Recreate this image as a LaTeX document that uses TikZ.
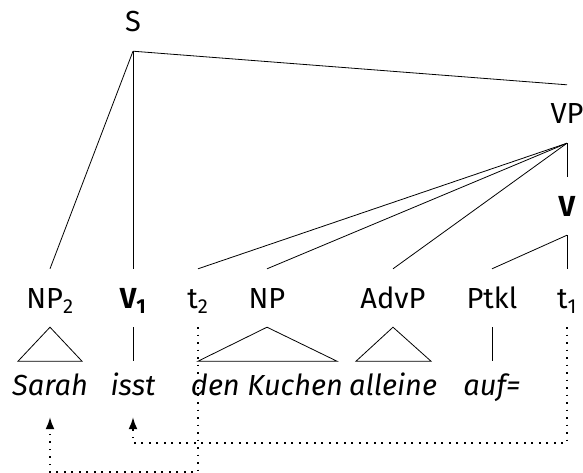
\documentclass[tikz,border=0pt]{standalone}
\usepackage{fontspec}
\setmainfont{Fira Sans}
\usetikzlibrary{arrows.meta}
\begin{document}
\begin{tikzpicture}[x=1pt,y=-1pt,
  lab/.style={inner sep=0pt,text height=20pt,text depth=0pt,minimum height=58pt,font=\fontsize{29}{34}\selectfont},
  word/.style={inner sep=0pt,text height=20pt,text depth=0pt,minimum height=64pt,font=\fontsize{29}{34}\selectfont\itshape},
  edge/.style={line width=0.8pt},
  trace/.style={line width=1.7pt,dash pattern=on 1.7pt off 5.8pt,-{Latex[length=12pt,width=9pt]}}]
\useasboundingbox (0,0) rectangle (583,473);
% labels
\node[lab] (S) at (133,22) {S};
\node[lab] (VP) at (567,114) {VP};
\node[lab] (V) at (567,206) {\textbf{V}};
\node[lab] (NPa) at (50,298) {NP\textsubscript{2}};
\node[lab] (Va) at (133,298) {\textbf{V\textsubscript{1}}};
\node[lab] (ta) at (198,298) {t\textsubscript{2}};
\node[lab] (NP) at (267,298) {NP};
\node[lab] (AdvP) at (393,298) {AdvP};
\node[lab] (Ptkl) at (492,298) {Ptkl};
\node[lab] (tb) at (567,298) {t\textsubscript{1}};
% words
\node[word] (w1) at (50,385) {Sarah};
\node[word] (w2) at (133,385) {isst};
\node[word] (w3) at (267,385) {den Kuchen};
\node[word] (w4) at (393,385) {alleine};
\node[word] (w5) at (492,385) {auf=};
% edges
\draw[edge] (S.south) -- (NPa.north);
\draw[edge] (S.south) -- (Va.north);
\draw[edge] (S.south) -- (VP.north);
\draw[edge] (VP.south) -- (ta.north);
\draw[edge] (VP.south) -- (NP.north);
\draw[edge] (VP.south) -- (AdvP.north);
\draw[edge] (VP.south) -- (V.north);
\draw[edge] (V.south) -- (Ptkl.north);
\draw[edge] (V.south) -- (tb.north);
% triangles and lines to words
\draw[edge] (NPa.south) -- ++(-32,34) -- ++(64,0) -- cycle;
\draw[edge] (Va.south) -- ++(0,34);
\draw[edge] (NP.south) -- ++(-69,34) -- ++(139,0) -- cycle;
\draw[edge] (AdvP.south) -- ++(-37,34) -- ++(75,0) -- cycle;
\draw[edge] (Ptkl.south) -- ++(0,34);
% traces
\draw[trace] (ta.south) -- ++(0,145) -| (w1.south);
\draw[trace] (tb.south) -- ++(0,116) -| (w2.south);
\end{tikzpicture}
\end{document}
